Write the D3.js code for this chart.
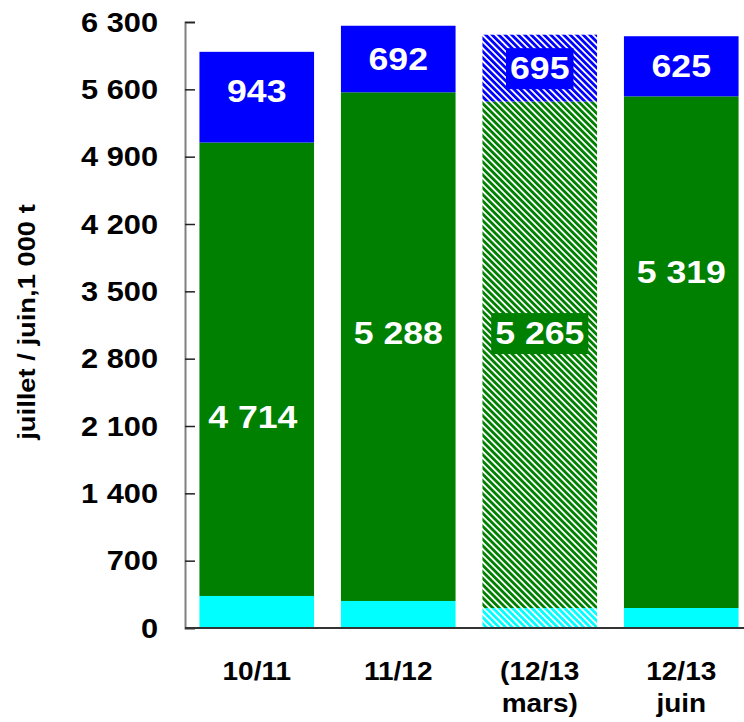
<!DOCTYPE html>
<html>
<head>
<meta charset="utf-8">
<script src="https://cdn.jsdelivr.net/npm/d3@7"></script>
<style>
    body { margin: 0; background: #fff; }
    text { font-family: Arial, "Liberation Sans", sans-serif; font-weight: bold; }
</style>
</head>
<body>
<div id="chart"></div>
<script>

// categories (two lines each)
var categories = ["10/11", "11/12", "(12/13 mars)", "12/13 juin"];
var categoryLines = [["10/11"], ["11/12"], ["(12/13", "mars)"], ["12/13", "juin"]];

// series values, 1 000 t
var bottomValues = [333, 281, 208, 208];
var greenValues = [4714, 5288, 5265, 5319];
var blueValues = [943, 692, 695, 625];

// which bar is a forecast (hatched)
var hatched = [false, false, true, false];

// where the green / blue value labels sit (in data units)
var greenLabelAt = [2200, 3066, 3066, 3700];
var blueLabelAt = [5580, 5915, 5820, 5840];

var greenLabels = ["4 714", "5 288", "5 265", "5 319"];
var blueLabels = ["943", "692", "695", "625"];

var yTicks = [0, 700, 1400, 2100, 2800, 3500, 4200, 4900, 5600, 6300];

var width = 744, height = 722;
var stretch = 1.14; // the original text is a bit wider than Arial

var svg = d3.select("#chart").append("svg")
    .attr("width", width)
    .attr("height", height);

var defs = svg.append("defs");

function addHatch(id, color) {
    var p = defs.append("pattern")
        .attr("id", id)
        .attr("patternUnits", "userSpaceOnUse")
        .attr("width", 4.6)
        .attr("height", 4.6)
        .attr("patternTransform", "rotate(-45)");
    p.append("rect").attr("width", 4.6).attr("height", 4.6).attr("fill", "#fff");
    p.append("rect").attr("width", 2.8).attr("height", 4.6).attr("fill", color);
}
addHatch("hatchCyan", "#00FFFF");
addHatch("hatchGreen", "#008000");
addHatch("hatchBlue", "#0000FF");

var y = d3.scaleLinear()
    .domain([0, 6300])
    .range([628, 22]);

var x = d3.scaleBand()
    .domain(categories)
    .range([186, 752])
    .paddingInner(0.19)
    .paddingOuter(0.095);

var rows = categories.map(function (c, i) {
    return {
        key: c,
        i: i,
        segs: [
            {y0: 0, y1: bottomValues[i], color: "#00FFFF", hatch: "hatchCyan"},
            {y0: bottomValues[i], y1: bottomValues[i] + greenValues[i], color: "#008000", hatch: "hatchGreen"},
            {y0: bottomValues[i] + greenValues[i], y1: bottomValues[i] + greenValues[i] + blueValues[i], color: "#0000FF", hatch: "hatchBlue"}
        ]
    };
});

var barG = svg.selectAll(".bar")
    .data(rows)
    .enter()
    .append("g")
    .attr("class", "bar");

barG.selectAll("rect")
    .data(function (d) {
        return d.segs.map(function (s) { s.h = hatched[d.i]; s.key = d.key; return s; });
    })
    .enter()
    .append("rect")
    .attr("x", function (d) { return x(d.key); })
    .attr("width", x.bandwidth())
    .attr("y", function (d) { return y(d.y1); })
    .attr("height", function (d) { return y(d.y0) - y(d.y1); })
    .attr("fill", function (d) { return d.h ? "url(#" + d.hatch + ")" : d.color; });

// axes
var yAxis = d3.axisRight(y)
    .tickValues(yTicks)
    .tickSize(10)
    .tickFormat("");

var yEl = svg.append("g")
    .attr("transform", "translate(185,0)")
    .call(yAxis);
yEl.select(".domain").attr("stroke", "#808080").attr("stroke-width", 2);
yEl.selectAll(".tick line").attr("stroke", "#222").attr("stroke-width", 1.5);

svg.selectAll(".ylab")
    .data(yTicks)
    .enter()
    .append("text")
    .attr("class", "ylab")
    .attr("transform", function (d) { return "translate(158," + y(d) + ") scale(" + stretch + ",1)"; })
    .attr("dy", "0.36em")
    .attr("text-anchor", "end")
    .style("font-size", "27px")
    .text(function (d) { return d3.format(",")(d).replace(",", " "); });

svg.append("line")
    .attr("x1", 185).attr("x2", 744)
    .attr("y1", 628).attr("y2", 628)
    .attr("stroke", "#333")
    .attr("stroke-width", 2);

// category labels
categoryLines.forEach(function (lines, i) {
    var cx = x(categories[i]) + x.bandwidth() / 2;
    lines.forEach(function (t, j) {
        svg.append("text")
            .attr("transform", "translate(" + cx + "," + (680 + j * 32) + ") scale(1.12,1)")
            .attr("text-anchor", "middle")
            .style("font-size", "25px")
            .text(t);
    });
});

// axis title
svg.append("text")
    .attr("transform", "translate(35,322) rotate(-90) scale(" + stretch + ",1)")
    .attr("text-anchor", "middle")
    .style("font-size", "24px")
    .text("juillet / juin,1 000 t");

// value labels
function addLabel(txt, i, val, boxColor, dx) {
    var cx = x(categories[i]) + x.bandwidth() / 2 + dx;
    var g = svg.append("g");
    var t = g.append("text")
        .attr("transform", "translate(" + cx + "," + y(val) + ") scale(1.15,1)")
        .attr("dy", "0.36em")
        .attr("text-anchor", "middle")
        .attr("fill", "#fff")
        .style("font-size", "31px")
        .text(txt);
    if (hatched[i]) {
        var w = t.node().getBBox().width * 1.15;
        g.insert("rect", "text")
            .attr("x", cx - w / 2 - 4)
            .attr("y", y(val) - 20)
            .attr("width", w + 8)
            .attr("height", 41)
            .attr("fill", boxColor);
    }
}

categories.forEach(function (c, i) {
    addLabel(greenLabels[i], i, greenLabelAt[i], "#008000", i === 0 ? -4 : 0);
    addLabel(blueLabels[i], i, blueLabelAt[i], "#0000FF", 0);
});

</script>
</body>
</html>
